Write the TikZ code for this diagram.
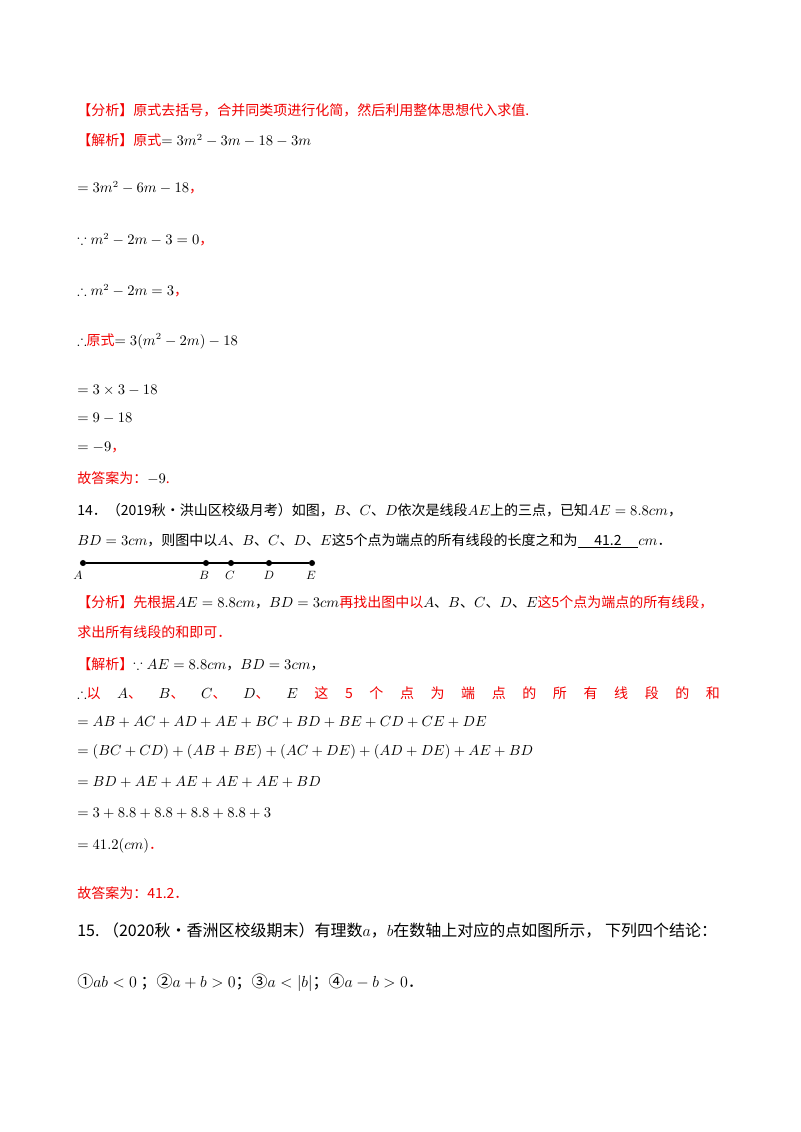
\documentclass[tikz,border=0pt]{standalone}
\usepackage{amssymb}
\usepackage{fontspec}
\setmainfont{Liberation Serif}
\newfontfamily\cjk{Noto Sans CJK SC}
\definecolor{rd}{RGB}{240,0,0}
\begin{document}
\begin{tikzpicture}[x=0.75pt,y=-0.75pt,
  t/.style={anchor=west,inner sep=0pt,font=\fontsize{10.5}{12}\selectfont\cjk},
  r/.style={t,text=rd},
  pt/.style={circle,fill=black,inner sep=1.6pt},
  lb/.style={inner sep=0pt,font=\fontsize{9}{10}\selectfont\itshape}]
\useasboundingbox (0,0) rectangle (800,1132);
\node[r] (n1) at (77,110) {【分析】原式去括号，合并同类项进行化简，然后利用整体思想代入求值.};
\node[t] (n2) at (77,140) {\textcolor{rd}{【解析】原式}$=3m^2-3m-18-3m$};
\node[t] (n3) at (77,188) {$=3m^2-6m-18$\textcolor{rd}{，}};
\node[t] (n4) at (77,240) {$\because m^2-2m-3=0$\textcolor{rd}{，}};
\node[t] (n5) at (77,291) {$\therefore m^2-2m=3$\textcolor{rd}{，}};
\node[t] (n6) at (77,341) {$\therefore$\textcolor{rd}{原式}$=3(m^2-2m)-18$};
\node[t] (n7) at (77,390) {$=3\times3-18$};
\node[t] (n8) at (77,418) {$=9-18$};
\node[t] (n9) at (77,448) {$=-9$\textcolor{rd}{，}};
\node[r] (n10) at (77,478) {故答案为：\textcolor{black}{$-9$}.};
\node[t] (n11) at (77,510) {14．（2019秋•洪山区校级月考）如图，$B$、$C$、$D$依次是线段$AE$上的三点，已知$AE=8.8cm$，};
\node[t] (n12) at (77,541) {$BD=3cm$，则图中以$A$、$B$、$C$、$D$、$E$这5个点为端点的所有线段的长度之和为\underline{\hspace{1.2em}41.2\hspace{1.2em}}$cm$．};
\node[pt] (A) at (83,563) {};
\node[pt] (B) at (206,563) {};
\node[pt] (C) at (231,563) {};
\node[pt] (D) at (269,563) {};
\node[pt] (E) at (312,563) {};
\draw[line width=0.8pt] (A) -- (E);
\node[lb] (la) at (78,575) {$A$};
\node[lb] (lb) at (204,575) {$B$};
\node[lb] (lc) at (230,575) {$C$};
\node[lb] (ld) at (269,575) {$D$};
\node[lb] (le) at (311,575) {$E$};
\node[r] (n13) at (77,602) {【分析】先根据\textcolor{black}{$AE=8.8cm$，$BD=3cm$}再找出图中以\textcolor{black}{$A$、$B$、$C$、$D$、$E$}这5个点为端点的所有线段，};
\node[r] (n14) at (77,632) {求出所有线段的和即可．};
\node[t] (n15) at (77,664) {\textcolor{rd}{【解析】}$\because AE=8.8cm$，$BD=3cm$，};
\node[t,text width=482pt] (n16) at (77,693) {$\therefore$\textcolor{rd}{以}\hfill$A$\textcolor{rd}{、}\hfill$B$\textcolor{rd}{、}\hfill$C$\textcolor{rd}{、}\hfill$D$\textcolor{rd}{、}\hfill$E$\hfill\textcolor{rd}{这}\hfill\textcolor{rd}{5}\hfill\textcolor{rd}{个}\hfill\textcolor{rd}{点}\hfill\textcolor{rd}{为}\hfill\textcolor{rd}{端}\hfill\textcolor{rd}{点}\hfill\textcolor{rd}{的}\hfill\textcolor{rd}{所}\hfill\textcolor{rd}{有}\hfill\textcolor{rd}{线}\hfill\textcolor{rd}{段}\hfill\textcolor{rd}{的}\hfill\textcolor{rd}{和}};
\node[t] (n17) at (77,722) {$=AB+AC+AD+AE+BC+BD+BE+CD+CE+DE$};
\node[t] (n18) at (77,752) {$=(BC+CD)+(AB+BE)+(AC+DE)+(AD+DE)+AE+BD$};
\node[t] (n19) at (77,782) {$=BD+AE+AE+AE+AE+BD$};
\node[t] (n20) at (77,813) {$=3+8.8+8.8+8.8+8.8+3$};
\node[t] (n21) at (77,846) {$=41.2(cm)$\textcolor{rd}{．}};
\node[r] (n22) at (77,893) {故答案为：41.2．};
\node[t,font=\fontsize{12}{14}\selectfont\cjk] (n23) at (77,930) {15.\ （2020秋•香洲区校级期末）有理数$a$，$b$在数轴上对应的点如图所示，\ 下列四个结论：};
\node[t,font=\fontsize{12}{14}\selectfont\cjk] (n24) at (77,983) {①$ab<0$\ ；②$a+b>0$；③$a<|b|$；④$a-b>0$．};
\end{tikzpicture}
\end{document}
